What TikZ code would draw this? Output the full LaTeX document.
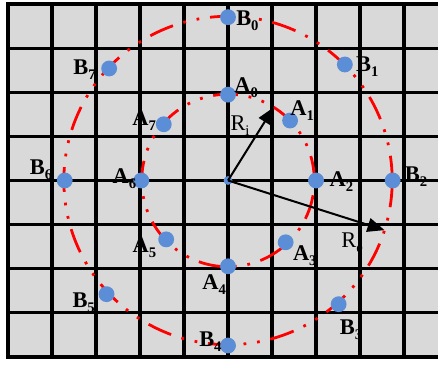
\documentclass[tikz,border=0pt]{standalone}
\usepackage{fontspec}
\setmainfont{Liberation Serif}
\usetikzlibrary{positioning, arrows.meta}
\definecolor{cellgray}{HTML}{D9D9D9}
\definecolor{dotblue}{HTML}{5B8ED6}
\newcommand{\lowidx}[1]{\raisebox{-0.22em}{\fontsize{9.5}{11}\selectfont #1}}

\begin{document}
\begin{tikzpicture}[
        every node/.style={
            font=\fontsize{14.5}{17}\selectfont,
            inner sep=0pt
        },
        pointdot/.style={
            circle,
            fill=dotblue,
            minimum size=0.36cm
        },
        centerdot/.style={
            circle,
            fill=dotblue,
            minimum size=0.2cm
        },
        tag/.style={
            anchor=base west,
            font=\fontsize{14.5}{17}\selectfont\bfseries
        },
        ring/.style={
            red,
            line width=1.8pt,
            dash pattern=on 16pt off 7pt on 1.8pt off 7pt on 1.8pt off 7pt
        },
        gridline/.style={
            black,
            line width=2.2pt
        },
        frameline/.style={
            black,
            line width=2.6pt,
            line cap=rect
        },
        arrow/.style={
            -{Triangle[length=11pt,width=9pt]},
            line width=1.3pt
        }
    ]

    \useasboundingbox (-5.18,-4.18) rectangle (4.77,4.1);

    % 网格背景
    \fill[cellgray] (-5.05,-4.03) rectangle (4.77,4.05);
    \draw[gridline] (-5,-4) grid (4.77,4);
    \draw[frameline] (4.77,4) -- (-5,4) -- (-5,-4) -- (4.77,-4);

    % 内圆与外圆（红色点划线）
    \draw[ring] (0,0) circle (1.96);
    \draw[ring] (0,0) circle (3.73);

    % 圆心与半径箭头
    \node[centerdot] (O) at (0,0) {};
    \coordinate (Ri) at (58:1.96);
    \coordinate (Re) at (-17.6:3.73);
    \draw[arrow] (O.center) -- (Ri);
    \draw[arrow] (O.center) -- (Re);
    \node[anchor=base west] (lRi) at ([shift={(0.05,1.14)}]O.center) {R\lowidx{i}};
    \node[anchor=base west] (lRe) at ([shift={(2.57,-1.52)}]O.center) {R\lowidx{e}};

    % 内圆上的点 A
    \node[pointdot] (A0) at (90:1.95) {};
    \node[pointdot] (A1) at (44:1.96) {};
    \node[pointdot] (A2) at (0:2.0) {};
    \node[pointdot] (A3) at (-47:1.92) {};
    \node[pointdot] (A4) at (-90:1.95) {};
    \node[pointdot] (A5) at (-136.4:1.94) {};
    \node[pointdot] (A6) at (180:1.97) {};
    \node[pointdot] (A7) at (138.8:1.94) {};

    % 外圆上的点 B
    \node[pointdot] (B0) at (90:3.71) {};
    \node[pointdot] (B1) at (44.8:3.74) {};
    \node[pointdot] (B2) at (0:3.74) {};
    \node[pointdot] (B3) at (-48.2:3.77) {};
    \node[pointdot] (B4) at (-90:3.75) {};
    \node[pointdot] (B5) at (-136.9:3.78) {};
    \node[pointdot] (B6) at (180:3.71) {};
    \node[pointdot] (B7) at (136.7:3.71) {};

    % 点的标签
    \node[tag] (lA0) at ([shift={(0.14,0.05)}]A0.center) {A\lowidx{0}};
    \node[tag] (lA1) at ([shift={(0,0.11)}]A1.center) {A\lowidx{1}};
    \node[tag] (lA2) at ([shift={(0.3,-0.14)}]A2.center) {A\lowidx{2}};
    \node[tag] (lA3) at ([shift={(0.16,-0.41)}]A3.center) {A\lowidx{3}};
    \node[tag] (lA4) at ([shift={(-0.59,-0.52)}]A4.center) {A\lowidx{4}};
    \node[tag] (lA5) at ([shift={(-0.77,-0.3)}]A5.center) {A\lowidx{5}};
    \node[tag] (lA6) at ([shift={(-0.66,-0.07)}]A6.center) {A\lowidx{6}};
    \node[tag] (lA7) at ([shift={(-0.72,-0.02)}]A7.center) {A\lowidx{7}};

    \node[tag] (lB0) at ([shift={(0.18,-0.2)}]B0.center) {B\lowidx{0}};
    \node[tag] (lB1) at ([shift={(0.25,-0.16)}]B1.center) {B\lowidx{1}};
    \node[tag] (lB2) at ([shift={(0.27,-0.02)}]B2.center) {B\lowidx{2}};
    \node[tag] (lB3) at ([shift={(0.02,-0.68)}]B3.center) {B\lowidx{3}};
    \node[tag] (lB4) at ([shift={(-0.66,-0.02)}]B4.center) {B\lowidx{4}};
    \node[tag] (lB5) at ([shift={(-0.78,-0.3)}]B5.center) {B\lowidx{5}};
    \node[tag] (lB6) at ([shift={(-0.8,0.14)}]B6.center) {B\lowidx{6}};
    \node[tag] (lB7) at ([shift={(-0.82,-0.14)}]B7.center) {B\lowidx{7}};

\end{tikzpicture}
\end{document}
